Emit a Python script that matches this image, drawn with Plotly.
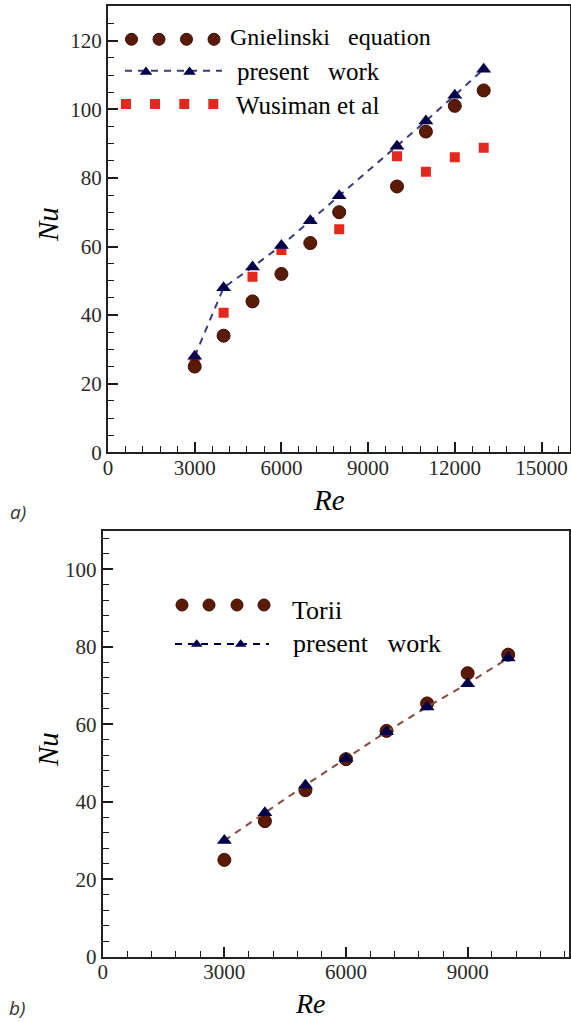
import plotly.graph_objects as go

# ---------------- data ----------------
re_a = [3000, 4000, 5000, 6000, 7000, 8000, 10000, 11000, 12000, 13000]
nu_gnielinski = [25, 34, 44, 52, 61, 70, 77.5, 93.5, 101, 105.5]
nu_present_a = [28, 48, 54, 60.3, 67.5, 74.8, 89.2, 96.6, 104.1, 111.7]
re_wusiman = [3000, 4000, 5000, 6000, 8000, 10000, 11000, 12000, 13000]
nu_wusiman = [26, 40.7, 51.2, 59, 65, 86.3, 81.8, 86, 88.8]

re_b = [3000, 4000, 5000, 6000, 7000, 8000, 9000, 10000]
nu_torii = [25, 35, 43, 51, 58.3, 65.4, 73.2, 78]
nu_present_b = [30, 37.2, 44.3, 51.2, 58.1, 64.5, 70.5, 77.1]

xticks_a = [0, 3000, 6000, 9000, 12000, 15000]
yticks_a = [0, 20, 40, 60, 80, 100, 120]
xticks_b = [0, 3000, 6000, 9000]
yticks_b = [0, 20, 40, 60, 80, 100]

# ---------------- styles ----------------
BROWN = "#5a1a06"
BROWN_EDGE = "#3a0e02"
NAVY = "#00004a"
DASHNAVY = "#3a3a82"
RED = "#e5281e"
DASHBROWN = "#8a4a40"
SERIF = "Liberation Serif, Times New Roman, serif"
W, H = 571, 1022


def fx(p):  # page pixel x -> paper fraction
    return p / W


def fy(p):  # page pixel y -> paper fraction
    return 1 - p / H


fig = go.Figure()

# top panel
fig.add_trace(go.Scatter(x=re_wusiman, y=nu_wusiman, mode="markers", xaxis="x", yaxis="y",
                         marker=dict(symbol="square", size=10, color=RED, line=dict(width=0)),
                         showlegend=False))
fig.add_trace(go.Scatter(x=re_a, y=nu_gnielinski, mode="markers", xaxis="x", yaxis="y",
                         marker=dict(symbol="circle", size=13, color=BROWN, line=dict(width=1, color=BROWN_EDGE)),
                         showlegend=False))
fig.add_trace(go.Scatter(x=re_a, y=nu_present_a, mode="lines+markers", xaxis="x", yaxis="y",
                         line=dict(color=DASHNAVY, width=2, dash="7px,6px"),
                         marker=dict(symbol="triangle-up", size=13, color=NAVY),
                         showlegend=False))

# bottom panel
fig.add_trace(go.Scatter(x=re_b, y=nu_torii, mode="markers", xaxis="x2", yaxis="y2",
                         marker=dict(symbol="circle", size=13, color=BROWN, line=dict(width=1, color=BROWN_EDGE)),
                         showlegend=False))
fig.add_trace(go.Scatter(x=re_b, y=nu_present_b, mode="lines+markers", xaxis="x2", yaxis="y2",
                         line=dict(color=DASHBROWN, width=2, dash="7px,6px"),
                         marker=dict(symbol="triangle-up", size=13, color=NAVY),
                         showlegend=False))


# ---------------- hand-drawn legends on a page-pixel overlay axis ----------------
def legend_markers(xs, y, symbol, size, color, line=None):
    fig.add_trace(go.Scatter(x=xs, y=[y] * len(xs), mode="markers",
                             xaxis="x3", yaxis="y3",
                             marker=dict(symbol=symbol, size=size, color=color,
                                         line=line or dict(width=0)),
                             showlegend=False, hoverinfo="skip"))


def legend_dash(x0, x1, y, color):
    fig.add_trace(go.Scatter(x=[x0, x1], y=[y, y], mode="lines",
                             xaxis="x3", yaxis="y3",
                             line=dict(color=color, width=2, dash="7px,6px"),
                             showlegend=False, hoverinfo="skip"))


# top legend
legend_markers([131.5, 159, 186.5, 214], 39.3, "circle", 12, BROWN, dict(width=1, color=BROWN_EDGE))
legend_dash(125, 222, 70.7, DASHNAVY)
legend_markers([146, 189.5], 72, "triangle-up", 11, NAVY)
legend_markers([126, 155, 184.3, 213.3], 104, "square", 10, RED)
# bottom legend
legend_markers([182, 209, 237, 264], 605, "circle", 12, BROWN, dict(width=1, color=BROWN_EDGE))
legend_dash(175, 269, 644, NAVY)
legend_markers([196.7, 240.7], 644.2, "triangle-up", 10, NAVY)

ann = []


def text(x, y, s, size=25, family=SERIF, color="#000", **kw):
    d = dict(x=fx(x), y=fy(y), xref="paper", yref="paper", text=s, showarrow=False,
             xanchor="left", yanchor="middle", font=dict(family=family, size=size, color=color))
    d.update(kw)
    ann.append(d)


text(228, 36.6, "Gnielinski\u00a0\u00a0\u00a0equation", size=24)
text(234.5, 71.6, "present\u00a0\u00a0\u00a0work")
text(233.5, 105.9, "Wusiman et al")
text(290, 610, "Torii", size=26)
text(291, 643.3, "present\u00a0\u00a0\u00a0work", size=26)

# axis titles
text(48, 225, "<i>Nu</i>", size=29, xanchor="center", textangle=-90)
text(329, 500, "<i>Re</i>", size=29, xanchor="center")
text(48, 750, "<i>Nu</i>", size=29, xanchor="center", textangle=-90)
text(310, 1003, "<i>Re</i>", size=28, xanchor="center")
# panel labels
text(18.5, 511.5, "<i>a)</i>", size=19, family="Open Sans, sans-serif", color="#333", xanchor="center")
text(17, 1008, "<i>b)</i>", size=19, family="Open Sans, sans-serif", color="#333", xanchor="center")


def axis(domain, rng, ticks, minor_dtick, anchor, standoff=0):
    return dict(domain=domain, range=rng, tickvals=ticks, tickformat="d", ticks="inside",
                ticklen=10, tickwidth=2, tickcolor="#1a1a1a", ticklabelstandoff=standoff,
                showline=True, linecolor="#222", linewidth=2, mirror=True,
                showgrid=False, zeroline=False, anchor=anchor,
                tickfont=dict(family=SERIF, size=21, color="#2a2a2a"),
                minor=dict(dtick=minor_dtick, tick0=0, ticks="inside", ticklen=6, tickwidth=1.3,
                           tickcolor="#1a1a1a", showgrid=False))


# top panel: 0 at page y 452.3, 3.43 px per unit, frame top at page y 6
top_px_per_unit = 3.43
top_ymax = (452.3 - 6) / top_px_per_unit

fig.update_layout(
    width=W, height=H, autosize=False,
    margin=dict(l=0, r=0, t=0, b=0, pad=0, autoexpand=False),
    paper_bgcolor="white", plot_bgcolor="rgba(0,0,0,0)",
    showlegend=False,
    xaxis=axis([fx(108), fx(569.5)], [0, 16000 * (569.5 - 108) / 462.4], xticks_a, 600, "y", -5),
    yaxis=axis([fy(452.3), fy(6)], [0, top_ymax], yticks_a, 5, "x"),
    xaxis2=axis([fx(102.7), fx(569)], [0, 11500], xticks_b, 600, "y2", -5),
    yaxis2=axis([fy(956.7), fy(530.7)], [0, 110], yticks_b, 4, "x2"),
    xaxis3=dict(domain=[0, 1], range=[0, W], visible=False, anchor="y3", fixedrange=True),
    yaxis3=dict(domain=[0, 1], range=[H, 0], visible=False, anchor="x3", fixedrange=True),
    annotations=ann,
)

fig.write_html("out.html", config={"displayModeBar": False},
               post_script="document.body.style.margin='0px';")
